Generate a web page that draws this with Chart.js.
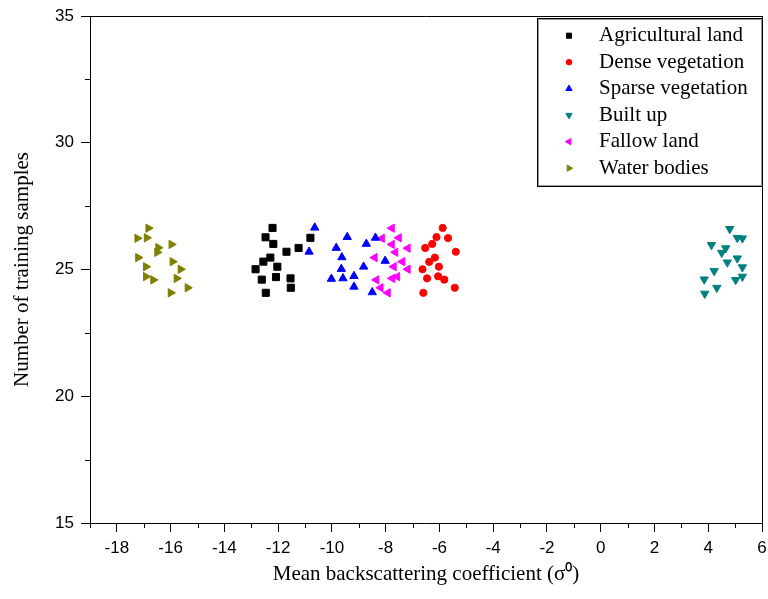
<!DOCTYPE html>
<html><head><meta charset="utf-8">
<script src="https://cdn.jsdelivr.net/npm/chart.js@4.4.1/dist/chart.umd.min.js"></script>
<style>html,body{margin:0;padding:0;background:#fff}#wrap{width:768px;height:599px;position:relative}</style>
</head><body><div id="wrap"><canvas id="c" width="768" height="599"></canvas></div>
<script>
const categories = ['Agricultural land','Dense vegetation','Sparse vegetation','Built up','Fallow land','Water bodies'];

const agriX = [-12.21,-12.47,-12.18,-11.69,-11.24,-10.80,-12.29,-12.55,-12.03,-12.84,-12.61,-12.08,-11.54,-11.53,-12.46];
const agriY = [26.64,26.27,26.01,25.70,25.85,26.25,25.47,25.31,25.11,25.01,24.60,24.70,24.65,24.28,24.08];

const denseX = [-5.88,-6.11,-5.68,-6.53,-6.27,-5.39,-6.17,-6.38,-6.02,-6.63,-6.46,-6.05,-5.82,-5.43,-6.60];
const denseY = [26.64,26.28,26.24,25.85,26.01,25.70,25.47,25.30,25.11,25.01,24.65,24.73,24.60,24.28,24.08];

const sparseX = [-10.64,-10.85,-9.43,-9.84,-8.72,-8.38,-9.63,-8.02,-8.82,-9.65,-10.02,-9.59,-9.18,-9.18,-8.50];
const sparseY = [26.65,25.70,26.28,25.85,26.01,26.25,25.48,25.34,25.11,25.02,24.63,24.65,24.74,24.32,24.10];

const builtX = [4.80,5.08,5.27,4.12,4.65,4.50,5.08,4.71,5.27,4.22,5.27,5.02,3.85,4.32,3.87];
const builtY = [26.60,26.25,26.23,25.97,25.84,25.66,25.44,25.28,25.09,24.94,24.72,24.59,24.61,24.28,24.05];

const fallowX = [-7.77,-8.14,-7.51,-7.77,-7.18,-7.64,-8.41,-7.38,-7.70,-7.18,-7.57,-7.76,-8.35,-8.19,-7.92];
const fallowY = [26.63,26.23,26.25,25.99,25.84,25.68,25.47,25.31,25.11,25.01,24.72,24.65,24.59,24.28,24.08];

const waterX = [-16.83,-17.24,-16.89,-15.97,-16.46,-16.50,-17.21,-15.93,-16.92,-15.63,-16.92,-16.65,-15.78,-15.37,-16.00];
const waterY = [26.63,26.23,26.25,25.99,25.86,25.68,25.47,25.31,25.11,25.01,24.72,24.59,24.65,24.28,24.08];

const xMajorTicks = [-18,-16,-14,-12,-10,-8,-6,-4,-2,0,2,4,6];
const xMinorTicks = [-19,-17,-15,-13,-11,-9,-7,-5,-3,-1,1,3,5];
const yMajorTicks = [15,20,25,30,35];
const yMinorTicks = [17.5,22.5,27.5,32.5];

const pts = (xs, ys) => xs.map((x, i) => ({x: x, y: ys[i]}));

const styles = [
  {color:'#000000', pointStyle:'rect', rotation:0, radius:5},
  {color:'#ff0000', pointStyle:'circle', rotation:0, radius:3.6},
  {color:'#0000ff', pointStyle:'triangle', rotation:0, radius:4.8},
  {color:'#008080', pointStyle:'triangle', rotation:180, radius:4.8},
  {color:'#ff00ff', pointStyle:'triangle', rotation:-90, radius:4.8},
  {color:'#808000', pointStyle:'triangle', rotation:90, radius:4.8}
];
const seriesData = [pts(agriX,agriY), pts(denseX,denseY), pts(sparseX,sparseY), pts(builtX,builtY), pts(fallowX,fallowY), pts(waterX,waterY)];

const datasets = categories.map((label, i) => ({
  label: label,
  data: seriesData[i],
  pointStyle: styles[i].pointStyle,
  rotation: styles[i].rotation,
  pointRadius: styles[i].radius,
  backgroundColor: styles[i].color,
  borderColor: styles[i].color,
  borderWidth: 1
}));

const sansFont = {family: "'Liberation Sans', Arial, sans-serif", size: 17};
const serifFont = {family: "'Liberation Serif', 'Times New Roman', serif", size: 21};

function drawMarker(ctx, style, x, y, r) {
  if (Chart.helpers && Chart.helpers.drawPoint) {
    Chart.helpers.drawPoint(ctx, {pointStyle: style.pointStyle, rotation: style.rotation, radius: r, borderWidth: 1}, x, y);
  }
}

const framePlugin = {
  id: 'frame',
  afterDraw(chart) {
    const {ctx, chartArea: a, scales} = chart;
    const xs = scales.x, ys = scales.y;
    ctx.save();
    ctx.strokeStyle = '#000';
    ctx.lineWidth = 1;
    ctx.beginPath();
    ctx.moveTo(a.left, a.top + 0.5); ctx.lineTo(a.right + 1, a.top + 0.5);
    ctx.moveTo(a.right + 0.5, a.top); ctx.lineTo(a.right + 0.5, a.bottom + 1);
    xMinorTicks.forEach(v => {
      const px = Math.round(xs.getPixelForValue(v)) + 0.5;
      ctx.moveTo(px, a.bottom); ctx.lineTo(px, a.bottom + 5);
    });
    yMinorTicks.forEach(v => {
      const py = Math.round(ys.getPixelForValue(v)) + 0.5;
      ctx.moveTo(a.left - 5, py); ctx.lineTo(a.left, py);
    });
    ctx.stroke();

    // legend
    const lx = 537, ly = 18, lw = 225, lh = 168;
    ctx.fillStyle = '#fff';
    ctx.fillRect(lx, ly, lw, lh);
    ctx.strokeStyle = '#000';
    ctx.strokeRect(lx + 0.5, ly + 0.5, lw, lh);
    ctx.strokeStyle = '#9a9a9a';
    ctx.strokeRect(lx + 1.5, ly + 1.5, lw - 2, lh - 2);
    chart.data.datasets.forEach((ds, i) => {
      const cy = 35.7 + i * 26.5;
      ctx.fillStyle = ds.backgroundColor;
      ctx.strokeStyle = ds.borderColor;
      ctx.lineWidth = 1;
      drawMarker(ctx, styles[i], 569, cy, styles[i].pointStyle === 'rect' ? 3.6 : (styles[i].pointStyle === 'circle' ? 2.8 : 3.6));
      ctx.fillStyle = '#000';
      ctx.font = serifFont.size + 'px ' + serifFont.family;
      ctx.textBaseline = 'middle';
      ctx.textAlign = 'left';
      ctx.fillText(ds.label, 599, cy);
    });
    ctx.restore();
  }
};

new Chart(document.getElementById('c'), {
  type: 'scatter',
  data: {datasets: datasets},
  plugins: [framePlugin],
  options: {
    responsive: false,
    animation: false,
    devicePixelRatio: 1,
    events: [],
    layout: {padding: {top: 16, right: 5, bottom: 0, left: 0}},
    plugins: {legend: {display: false}, tooltip: {enabled: false}},
    scales: {
      x: {
        type: 'linear', position: 'bottom', min: -19, max: 6,
        afterBuildTicks: s => { s.ticks = xMajorTicks.map(v => ({value: v})); },
        afterFit: s => { s.height = 76; s.paddingLeft = 0; s.paddingRight = 0; },
        ticks: {font: sansFont, color: '#000', padding: 6, maxRotation: 0, autoSkip: false},
        grid: {drawOnChartArea: false, drawTicks: true, tickLength: 9, color: '#000', tickColor: '#000', lineWidth: 1},
        border: {display: true, color: '#000', width: 1},
        title: {display: true, text: 'Mean backscattering coefficient (\u03C3\u2070)', font: serifFont, color: '#000', padding: {top: 0, bottom: 12}}
      },
      y: {
        type: 'linear', position: 'left', min: 15, max: 35,
        afterBuildTicks: s => { s.ticks = yMajorTicks.map(v => ({value: v})); },
        afterFit: s => { s.width = 90; s.paddingTop = 0; s.paddingBottom = 0; },
        ticks: {font: sansFont, color: '#000', padding: 7, autoSkip: false},
        grid: {drawOnChartArea: false, drawTicks: true, tickLength: 9, color: '#000', tickColor: '#000', lineWidth: 1},
        border: {display: true, color: '#000', width: 1},
        title: {display: true, text: 'Number of training samples', font: serifFont, color: '#000', padding: {top: 10, bottom: 0}}
      }
    }
  }
});
</script></body></html>
